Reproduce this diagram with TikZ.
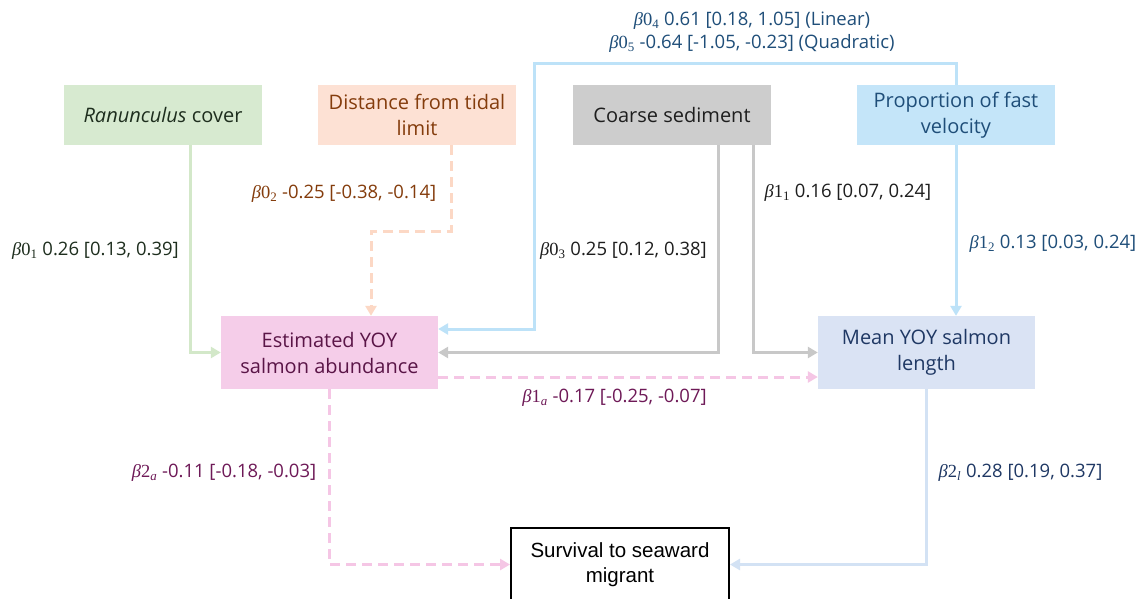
\documentclass[tikz,border=0pt]{standalone}
\usepackage{fontspec}
\setmainfont{Open Sans}
\newfontfamily\arialfont{Liberation Sans}
\newfontfamily\gserif{Liberation Serif}
\newcommand\coef[2]{{\gserif\textit{β}#1\textsubscript{#2}}}
\usetikzlibrary{arrows.meta,calc}
\definecolor{gfill}{HTML}{D7EAD0}
\definecolor{gline}{HTML}{D3E8C9}
\definecolor{gtext}{HTML}{1E2E1E}
\definecolor{ofill}{HTML}{FDE1D4}
\definecolor{oline}{HTML}{FCD8C5}
\definecolor{otext}{HTML}{843C0C}
\definecolor{kfill}{HTML}{CDCDCD}
\definecolor{kline}{HTML}{C8C8C8}
\definecolor{ktext}{HTML}{1E1E1E}
\definecolor{bfill}{HTML}{C4E5F9}
\definecolor{bline}{HTML}{BDE2F8}
\definecolor{btext}{HTML}{1F4E79}
\definecolor{pfill}{HTML}{F5CDE9}
\definecolor{pline}{HTML}{F5C6E5}
\definecolor{ptext}{HTML}{5A1547}
\definecolor{plabel}{HTML}{6E1957}
\definecolor{mfill}{HTML}{DAE3F4}
\definecolor{mline}{HTML}{D3E2F4}
\definecolor{mtext}{HTML}{1F3864}
\tikzset{
  box/.style={minimum width=198pt, minimum height=60pt, inner sep=0pt, align=center,
    font=\fontsize{20}{26}\selectfont},
  bigbox/.style={box, minimum width=217pt, minimum height=73pt},
  conn/.style={line width=3pt, -{Triangle[length=10pt,width=11pt]}},
  dashconn/.style={conn, dash pattern=on 10pt off 6pt},
  lbl/.style={inner sep=0pt, font=\fontsize{18.5}{23}\selectfont, align=center}
}
\begin{document}
\begin{tikzpicture}[x=1pt,y=-1pt]
\useasboundingbox[fill=white] (0,0) rectangle (1142,598);
% boxes
\node[box, fill=gfill, text=gtext] (ran) at (163,115) {\textit{Ranunculus} cover};
\node[box, fill=ofill, text=otext] (dist) at (417,115) {Distance from tidal\\limit};
\node[box, fill=kfill, text=ktext] (coarse) at (672,115) {Coarse sediment};
\node[box, fill=bfill, text=btext] (prop) at (956,115) {Proportion of fast\\velocity};
\node[bigbox, fill=pfill, text=ptext] (est) at (329.5,352.5) {Estimated YOY\\salmon abundance};
\node[bigbox, fill=mfill, text=mtext] (mean) at (926.5,352.5) {Mean YOY salmon\\length};
\node[bigbox, minimum width=218pt, draw=black, line width=2pt, fill=white,
  font=\arialfont\fontsize{20.5}{25}\selectfont] (surv) at (620,564.5) {Survival to seaward\\migrant};
\coordinate (pb) at (534,63);
% connectors
\draw[conn, gline] ($(ran.south)+(27,0)$) |- (est.west);
\draw[dashconn, oline] ($(dist.south)+(34,0)$) -- ++(0,86) -| ($(est.north)+(41.5,0)$);
\draw[conn, bline] (prop.north) |- (pb) |- ($(est.east)+(0,-23.5)$);
\draw[conn, kline] ($(coarse.south)+(46,0)$) |- (est.east);
\draw[conn, kline] ($(coarse.south)+(81,0)$) |- (mean.west);
\draw[conn, bline] (prop.south) -- (prop.south |- mean.north);
\draw[dashconn, pline] ($(est.east)+(0,24.5)$) -- ($(mean.west)+(0,24.5)$);
\draw[dashconn, pline] (est.south) |- (surv.west);
\draw[conn, mline] (mean.south) |- (surv.east);
% labels
\node[lbl, text=gtext] (l01) at (95.5,251) {\coef{0}{1} 0.26 [0.13, 0.39]};
\node[lbl, text=otext] (l02) at (344,194) {\coef{0}{2} -0.25 [-0.38, -0.14]};
\node[lbl, text=ktext] (l03) at (623.5,251) {\coef{0}{3} 0.25 [0.12, 0.38]};
\node[lbl, text=btext] (l04) at (752,32.5) {\coef{0}{4} 0.61 [0.18, 1.05] (Linear)\\\coef{0}{5} -0.64 [-1.05, -0.23] (Quadratic)};
\node[lbl, text=ktext] (l11) at (848,193) {\coef{1}{1} 0.16 [0.07, 0.24]};
\node[lbl, text=btext] (l12) at (1053,244) {\coef{1}{2} 0.13 [0.03, 0.24]};
\node[lbl, text=plabel] (l1a) at (614.5,398) {\coef{1}{\textit{a}} -0.17 [-0.25, -0.07]};
\node[lbl, text=plabel] (l2a) at (224,473) {\coef{2}{\textit{a}} -0.11 [-0.18, -0.03]};
\node[lbl, text=mtext] (l2l) at (1020.5,473) {\coef{2}{\textit{l}} 0.28 [0.19, 0.37]};
\end{tikzpicture}
\end{document}
